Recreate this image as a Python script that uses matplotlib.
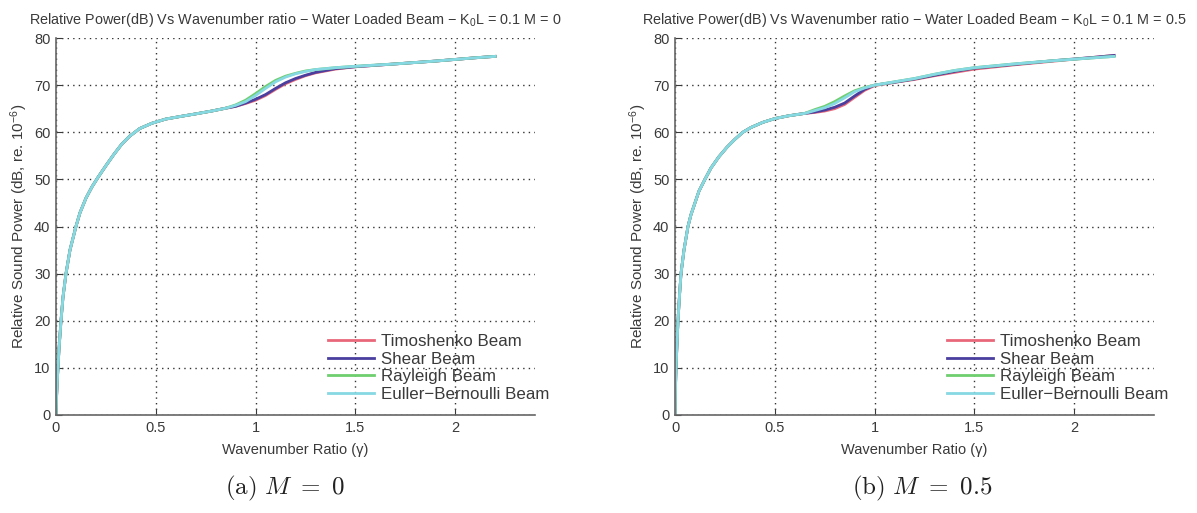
import matplotlib
matplotlib.use("Agg")
import matplotlib.pyplot as plt

plt.rcParams['font.family'] = ['Liberation Sans', 'DejaVu Sans']
plt.rcParams['mathtext.fontset'] = 'custom'
plt.rcParams['mathtext.rm'] = 'Liberation Sans'
plt.rcParams['mathtext.it'] = 'Liberation Sans:italic'

# panel (a): M = 0  -- all four beams coincide below x = 0.9
xa = [0, 0.003, 0.006, 0.01, 0.015, 0.025, 0.035, 0.05, 0.07, 0.1, 0.12, 0.15, 0.18,
      0.21, 0.25, 0.29, 0.33, 0.37, 0.42, 0.48, 0.55, 0.63, 0.7, 0.78, 0.85,
      0.9, 0.95, 1.0, 1.05, 1.1, 1.15, 1.2, 1.25, 1.3, 1.4, 1.5, 1.7, 1.9, 2.1, 2.2]
low_a = [0, 4, 7, 10, 14, 20, 25, 30, 35, 40, 42.9, 46.0, 48.4,
         50.4, 52.9, 55.3, 57.5, 59.2, 60.8, 61.9, 62.8, 63.4, 63.9, 64.5, 65.1]
timo_a = low_a + [65.5, 66.1, 66.8, 67.8, 69.1, 70.3, 71.2, 72.0, 72.6, 73.4, 73.9, 74.5, 75.1, 75.8, 76.1]
shear_a = low_a + [65.5, 66.2, 67.0, 68.0, 69.3, 70.5, 71.4, 72.1, 72.7, 73.5, 73.9, 74.5, 75.1, 75.8, 76.1]
rayl_a = low_a + [65.8, 66.8, 68.2, 69.7, 71.0, 71.9, 72.5, 73.0, 73.3, 73.7, 74.0, 74.5, 75.1, 75.8, 76.1]
eb_a = low_a + [65.7, 66.5, 67.8, 69.3, 70.7, 71.7, 72.4, 72.9, 73.3, 73.7, 74.0, 74.5, 75.1, 75.8, 76.1]

# panel (b): M = 0.5  -- beams coincide below x = 0.7
xb = [0, 0.002, 0.005, 0.01, 0.015, 0.022, 0.03, 0.045, 0.065, 0.08, 0.1, 0.12, 0.15,
      0.18, 0.22, 0.26, 0.3, 0.34, 0.38, 0.44, 0.5, 0.57, 0.65,
      0.7, 0.75, 0.8, 0.85, 0.9, 0.95, 1.0, 1.1, 1.2, 1.3, 1.4, 1.5, 1.7, 1.9, 2.1, 2.2]
low_b = [0, 5, 10, 15, 20, 25, 30, 35, 40, 42.5, 45, 47.5, 50,
         52.4, 54.8, 56.8, 58.5, 60, 61, 62.1, 62.9, 63.5, 64.0]
timo_b = low_b + [64.2, 64.5, 65.0, 65.9, 67.4, 68.9, 69.9, 70.6, 71.2, 72.0, 72.7, 73.4, 74.3, 75.1, 75.9, 76.3]
shear_b = low_b + [64.3, 64.7, 65.3, 66.2, 67.7, 69.1, 70.0, 70.6, 71.3, 72.1, 72.9, 73.6, 74.4, 75.2, 75.9, 76.3]
rayl_b = low_b + [64.8, 65.5, 66.5, 67.7, 68.8, 69.5, 70.0, 70.7, 71.4, 72.3, 73.1, 73.7, 74.5, 75.2, 75.8, 76.1]
eb_b = low_b + [64.6, 65.2, 66.1, 67.3, 68.6, 69.4, 70.0, 70.7, 71.4, 72.3, 73.1, 73.7, 74.5, 75.2, 75.8, 76.1]

labels = ["Timoshenko Beam", "Shear Beam", "Rayleigh Beam", "Euller\u2212Bernoulli Beam"]
colors = ["#e8687a", "#4a3f9e", "#6fcf6f", "#86d8e2"]
xticks = [0, 0.5, 1, 1.5, 2]
xticklabels = ["0", "0.5", "1", "1.5", "2"]
yticks = [0, 10, 20, 30, 40, 50, 60, 70, 80]

panels = [
    (xa, [timo_a, shear_a, rayl_a, eb_a], "0", r"$\mathrm{(a)}\ M\ =\ 0$", 56, 285),
    (xb, [timo_b, shear_b, rayl_b, eb_b], "0.5", r"$\mathrm{(b)}\ M\ =\ 0.5$", 675, 922),
]

W, H = 1197, 513
fig = plt.figure(figsize=(W / 100, H / 100), dpi=100)
text_col = "#3a3a3a"

for x, series, mval, caption, left, cap_x in panels:
    ax = fig.add_axes([left / W, 1 - 415 / H, 479 / W, 377 / H])
    for y, lab, c in zip(series, labels, colors):
        ax.plot(x, y, color=c, lw=2, label=lab)
    ax.set_xlim(0, 2.4)
    ax.set_ylim(0, 80)
    ax.set_xticks(xticks)
    ax.set_xticklabels(xticklabels)
    ax.set_yticks(yticks)
    ax.grid(True, linestyle=(0, (1, 3)), color="#333333", lw=1)
    ax.spines['top'].set_visible(False)
    ax.spines['right'].set_visible(False)
    for s in ['left', 'bottom']:
        ax.spines[s].set_color("#666666")
        ax.spines[s].set_linewidth(1.2)
    ax.tick_params(direction='in', length=4, labelsize=10.5, colors=text_col, pad=4)
    ax.set_title("Relative Power(dB) Vs Wavenumber ratio \u2212 Water Loaded Beam \u2212 K$_0$L = 0.1 M = " + mval,
                 fontsize=10.4, color=text_col, pad=10)
    ax.set_xlabel("Wavenumber Ratio (\u03b3)", fontsize=10.5, color=text_col, labelpad=6)
    ax.set_ylabel("Relative Sound Power (dB, re. 10$^{-6}$)", fontsize=11, color=text_col, labelpad=3)
    ax.legend(loc='upper left', bbox_to_anchor=((left + 272) / W, 1 - 334 / H),
              bbox_transform=fig.transFigure, frameon=False, fontsize=12.2,
              handlelength=2.7, handletextpad=0.4, labelspacing=0.15, borderaxespad=0,
              borderpad=0, labelcolor=text_col)
    fig.text(cap_x / W, 1 - 488 / H, caption, fontsize=18,
             math_fontfamily='cm', ha='center', va='center', color="#222222")

fig.savefig("out.png", dpi=100)
